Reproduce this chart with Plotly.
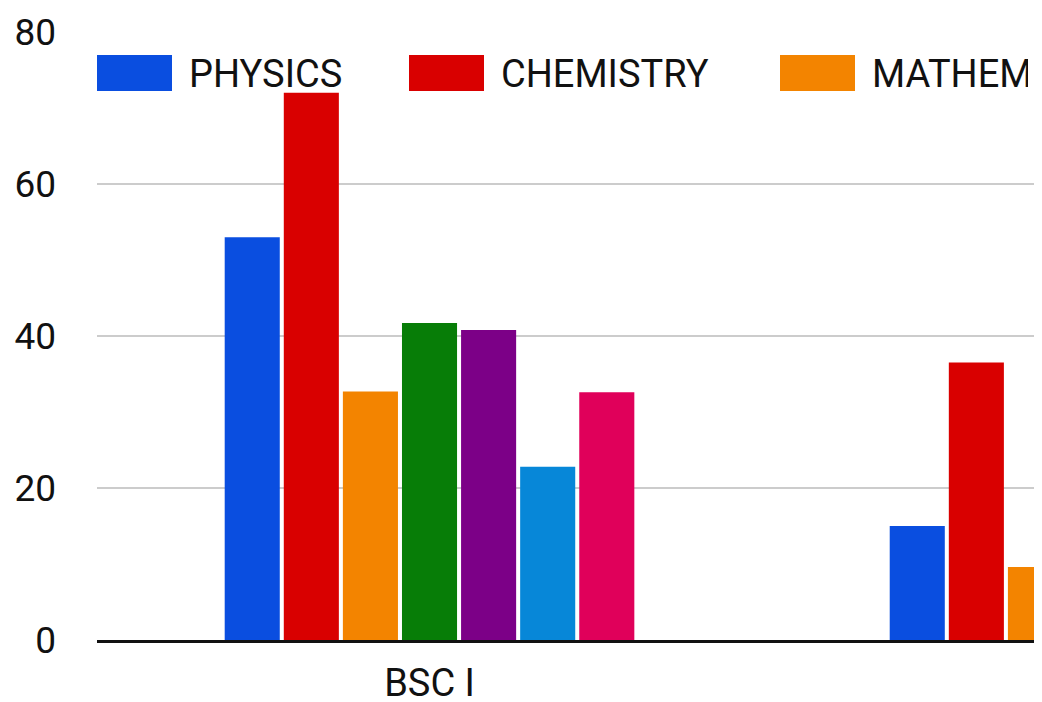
import plotly.graph_objects as go

categories = ["BSC I", "BSC II"]
series_names = ["PHYSICS", "CHEMISTRY", "MATHEMATICS", "ENGLISH", "HINDI", "COMPUTER", "ELECTRONICS"]
series_colors = ["#0a4ee0", "#d90000", "#f38400", "#077d07", "#7c0087", "#0787d8", "#e0005a"]
physics = [53, 15]
chemistry = [72, 36.5]
mathematics = [32.7, 9.6]
english = [41.7, None]
hindi = [40.8, None]
computer = [22.8, None]
electronics = [32.6, None]
series_values = [physics, chemistry, mathematics, english, hindi, computer, electronics]
y_ticks = [0, 20, 40, 60, 80]

# page has an 8px body margin; figure sized so it fills the 1042x702 window
OFF = 8
W, H = 1042 - OFF, 702 - OFF
ML, MR, MT, MB = 97 - OFF, 0, 32 - OFF, 62
PW, PH = W - ML - MR, H - MT - MB

def px_x(p):
    return (p - OFF - ML) / PW

def px_y(p):
    return (H - MB - (p - OFF)) / PH

fig = go.Figure()
for name, color, vals in zip(series_names, series_colors, series_values):
    fig.add_trace(go.Bar(x=categories, y=vals, name=name, marker=dict(color=color, line=dict(width=0)),
                         showlegend=False))

FONT = "Roboto, Arial, sans-serif"

# custom legend (large swatches as in the reference); last item is cropped by the edge
legend_x = [97, 409, 780]
legend_w = [None, None, 156]
for i, x0 in enumerate(legend_x):
    fig.add_shape(type="rect", xref="paper", yref="paper",
                  x0=px_x(x0), x1=px_x(x0 + 75), y0=px_y(91), y1=px_y(55),
                  fillcolor=series_colors[i], line=dict(width=0), layer="above")
    fig.add_annotation(xref="paper", yref="paper", x=px_x(x0 + 90), y=px_y(74),
                       xanchor="left", yanchor="middle", text=series_names[i], showarrow=False,
                       width=legend_w[i], align="left",
                       font=dict(family=FONT, size=38, color="#111111"))

fig.update_layout(
    width=W, height=H,
    margin=dict(l=ML, r=MR, t=MT, b=MB, pad=0),
    paper_bgcolor="white", plot_bgcolor="white",
    barmode="group", bargap=0.378, bargroupgap=0.068,
    font=dict(family=FONT, size=36, color="#111111"),
    xaxis=dict(range=[-0.5, 0.921], showgrid=False, showline=True, linecolor="#111111",
               linewidth=3, ticks="", ticklabelstandoff=7, tickfont=dict(size=38),
               automargin=False),
    yaxis=dict(range=[0, 80], tickvals=y_ticks, showgrid=True, gridcolor="#cccccc", gridwidth=1.5,
               zeroline=False, ticks="", ticklabelstandoff=40, tickfont=dict(size=37),
               automargin=False),
)

fig.write_html("out.html")
